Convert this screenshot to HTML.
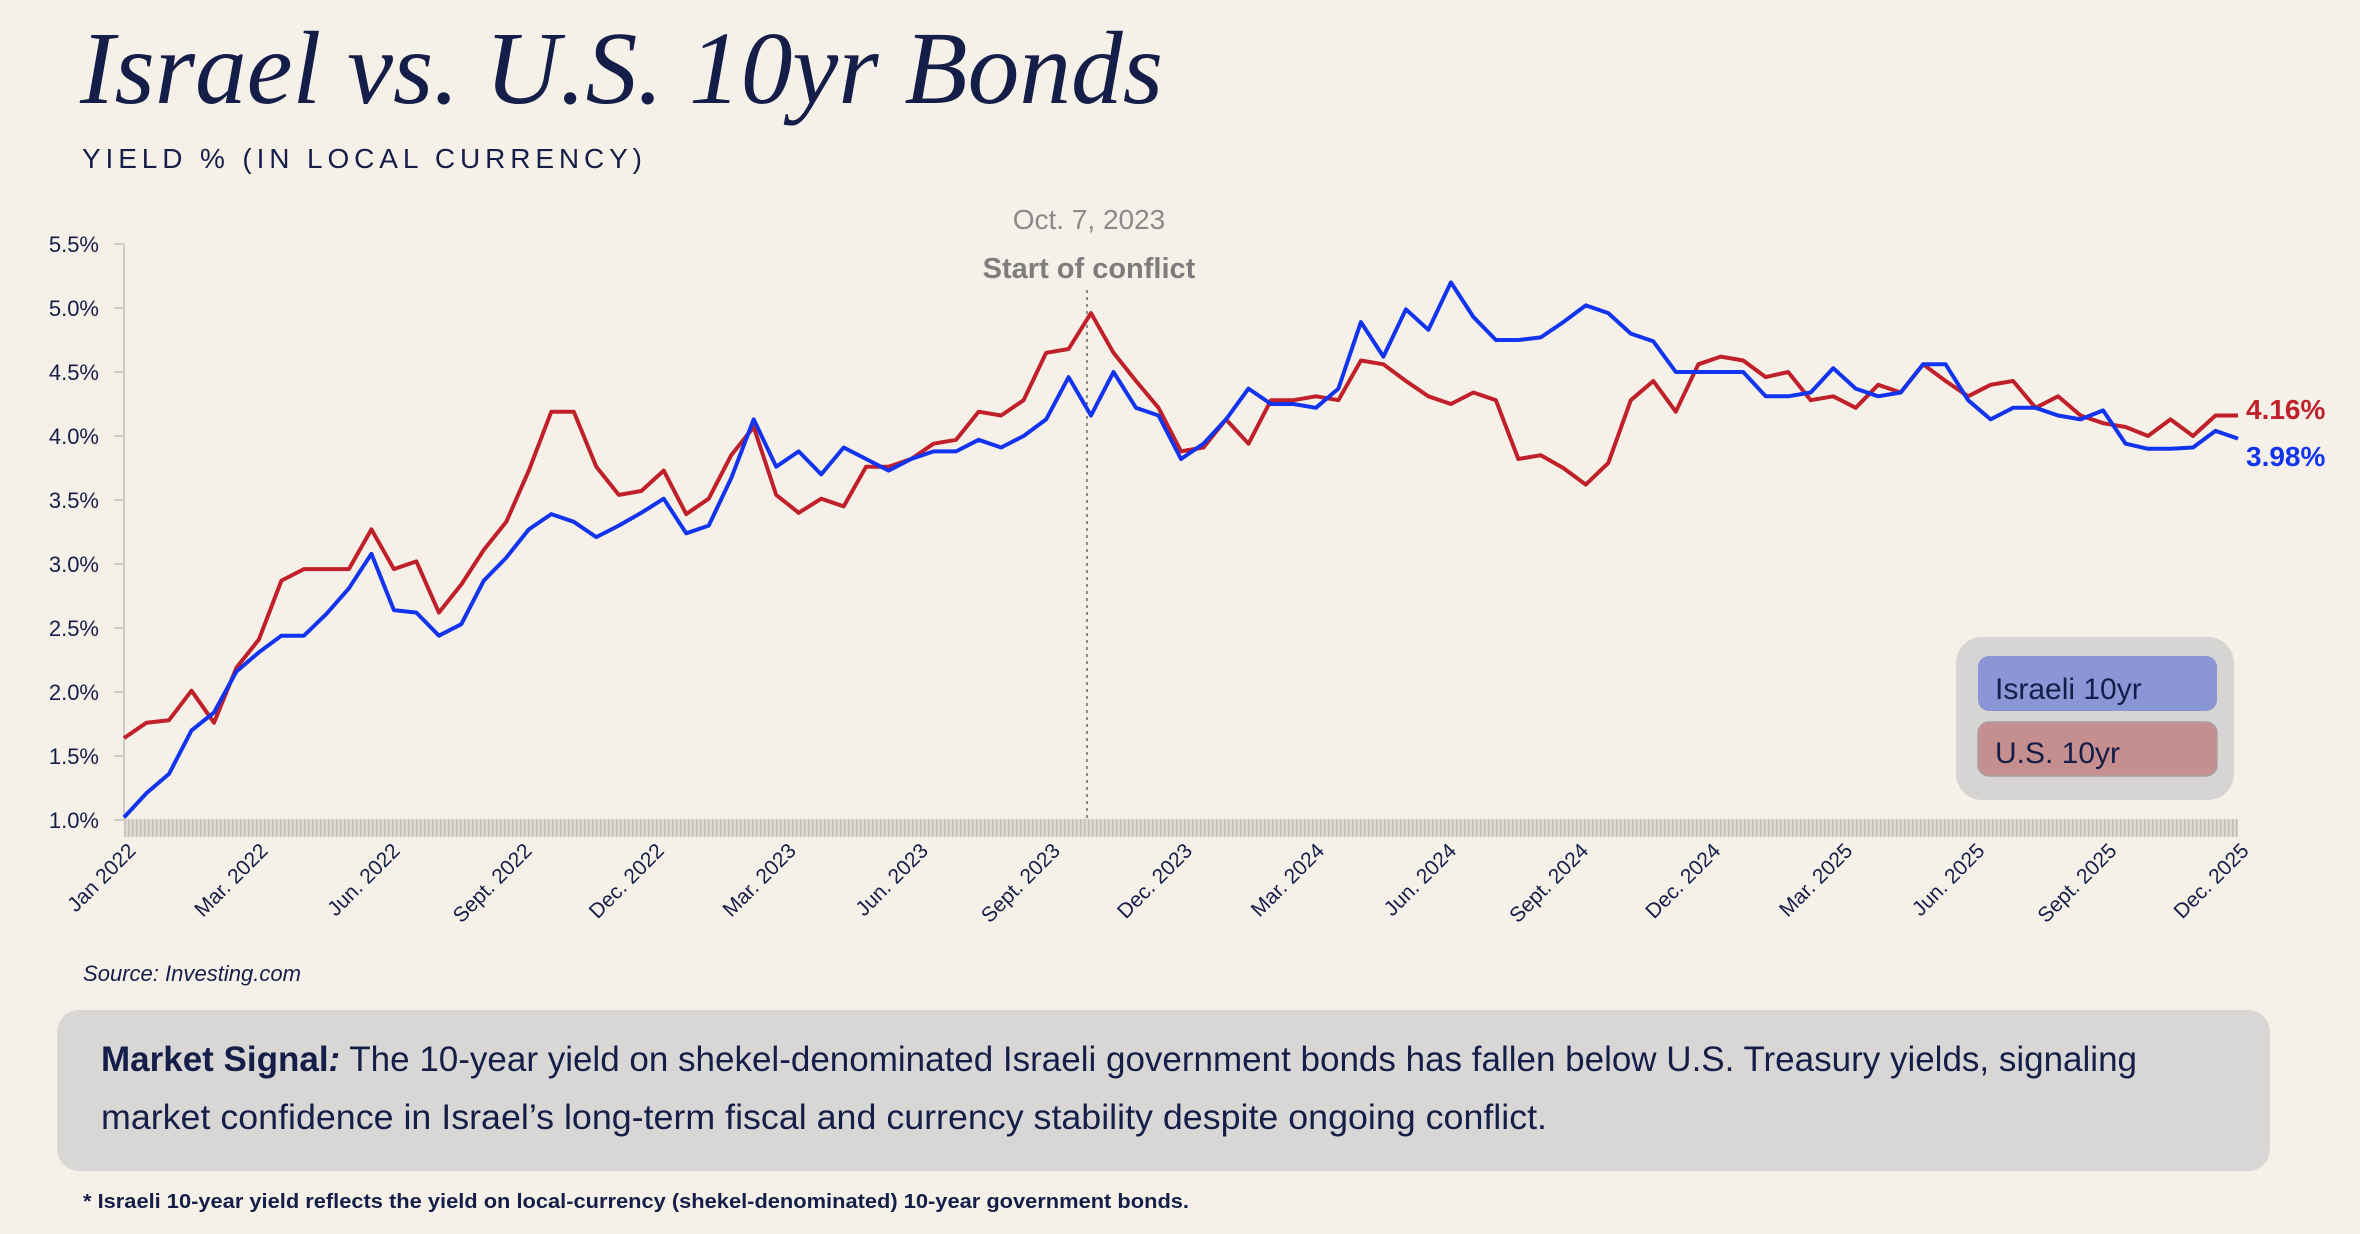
<!DOCTYPE html>
<html><head><meta charset="utf-8">
<style>
html,body{margin:0;padding:0;background:#f6f1e8;}
svg{display:block;}
text{font-family:"Liberation Sans",sans-serif;}
</style></head>
<body>
<svg id="chart" width="2360" height="1234" viewBox="0 0 2360 1234" xmlns="http://www.w3.org/2000/svg">
  <defs>
    <pattern id="tickpat" width="4" height="20" patternUnits="userSpaceOnUse">
      <rect width="4" height="20" fill="#dedad2"/>
      <rect width="1.5" height="20" fill="#c4c0b8"/>
    </pattern>
  </defs>
  <rect width="2360" height="1234" fill="#f6f1e8"/>
  <text x="80" y="103" style="font-family:'Liberation Serif',serif;font-style:italic;" font-size="104" fill="#151e48" textLength="1083" lengthAdjust="spacingAndGlyphs">Israel vs. U.S. 10yr Bonds</text>
  <text x="82" y="168" font-size="28" fill="#151e48" textLength="560" lengthAdjust="spacing">YIELD % (IN LOCAL CURRENCY)</text>

  <g id="yaxis"></g>
  <rect x="124" y="819" width="2114" height="18" fill="url(#tickpat)"/>
  <g id="xaxis"></g>

  <line x1="1087" y1="290" x2="1087" y2="822" stroke="#8a8a8a" stroke-width="2" stroke-dasharray="3,4"/>
  <text x="1089" y="229" font-size="28" fill="#8a8a8a" text-anchor="middle">Oct. 7, 2023</text>
  <text x="1089" y="278" font-size="29" font-weight="bold" fill="#7d7d7d" text-anchor="middle">Start of conflict</text>

  <g id="series"></g>

  <text x="2246" y="419" font-size="28" font-weight="bold" fill="#c0202a">4.16%</text>
  <text x="2246" y="466" font-size="28" font-weight="bold" fill="#1234ee">3.98%</text>

  <g>
    <rect x="1956" y="637" width="278" height="163" rx="26" fill="#d6d5d3"/>
    <g>
      <rect x="1978" y="656" width="239" height="55" rx="11" fill="#8a96d5"/>
      <text x="1995" y="699" font-size="30" fill="#151e48">Israeli 10yr</text>
    </g>
    <g>
      <rect x="1978" y="722" width="239" height="54" rx="11" fill="#c68f8f" stroke="#a8a0a0" stroke-width="1.5"/>
      <text x="1995" y="763" font-size="30" fill="#151e48">U.S. 10yr</text>
    </g>
  </g>

  <text x="83" y="981" font-size="22" font-style="italic" fill="#151e48" textLength="218" lengthAdjust="spacingAndGlyphs">Source: Investing.com</text>

  <g>
    <rect x="57" y="1010" width="2213" height="161" rx="22" fill="#d8d7d5"/>
    <text x="101" y="1071" font-size="35" fill="#151e48" textLength="2036" lengthAdjust="spacingAndGlyphs"><tspan font-weight="bold">Market Signal</tspan><tspan font-weight="bold" font-style="italic">:</tspan> The 10-year yield on shekel-denominated Israeli government bonds has fallen below U.S. Treasury yields, signaling</text>
    <text x="101" y="1129" font-size="35" fill="#151e48" textLength="1446" lengthAdjust="spacingAndGlyphs">market confidence in Israel’s long-term fiscal and currency stability despite ongoing conflict.</text>
  </g>
  <text x="83" y="1208" font-size="20" font-weight="bold" fill="#151e48" textLength="1106" lengthAdjust="spacingAndGlyphs">* Israeli 10-year yield reflects the yield on local-currency (shekel-denominated) 10-year government bonds.</text>
</svg>
<script>
// Half-monthly samples, Jan 2022 – Dec 2025
const usYield = [1.64,1.76,1.78,2.01,1.76,2.19,2.41,2.87,2.96,2.96,2.96,3.27,2.96,3.02,2.62,2.84,3.11,3.33,3.73,4.19,4.19,3.76,3.54,3.57,3.73,3.39,3.51,3.85,4.07,3.54,3.40,
  3.51,3.45,3.76,3.76,3.82,3.94,3.97,4.19,4.16,4.28,4.65,4.68,4.96,4.65,4.43,4.22,3.88,3.91,4.13,3.94,4.28,4.28,4.31,4.28,4.59,4.56,4.43,4.31,4.25,4.34,4.28,3.82,
  3.85,3.75,3.62,3.79,4.28,4.43,4.19,4.56,4.62,4.59,4.46,4.50,4.28,4.31,4.22,4.40,4.34,4.56,4.43,4.31,4.40,4.43,4.22,4.31,4.16,4.10,4.07,4.00,4.13,4.00,4.16,4.16];
const ilYield = [1.02,1.21,1.36,1.70,1.84,2.16,2.31,2.44,2.44,2.61,2.81,3.08,2.64,2.62,2.44,2.53,2.87,3.05,3.27,3.39,3.33,3.21,3.30,3.40,3.51,3.24,3.30,3.67,4.13,3.76,3.88,
  3.70,3.91,3.82,3.73,3.82,3.88,3.88,3.97,3.91,4.00,4.13,4.46,4.16,4.50,4.22,4.16,3.82,3.94,4.13,4.37,4.25,4.25,4.22,4.37,4.89,4.62,4.99,4.83,5.20,4.93,4.75,4.75,
  4.77,4.89,5.02,4.96,4.80,4.74,4.50,4.50,4.50,4.50,4.31,4.31,4.34,4.53,4.37,4.31,4.34,4.56,4.56,4.28,4.13,4.22,4.22,4.16,4.13,4.20,3.94,3.90,3.90,3.91,4.04,3.98];
const yTicks = [1.0,1.5,2.0,2.5,3.0,3.5,4.0,4.5,5.0,5.5];
const yTickLabels = ["1.0%","1.5%","2.0%","2.5%","3.0%","3.5%","4.0%","4.5%","5.0%","5.5%"];
const xTickLabels = ["Jan 2022","Mar. 2022","Jun. 2022","Sept. 2022","Dec. 2022","Mar. 2023","Jun. 2023","Sept. 2023","Dec. 2023","Mar. 2024","Jun. 2024","Sept. 2024","Dec. 2024","Mar. 2025","Jun. 2025","Sept. 2025","Dec. 2025"];

const NS = "http://www.w3.org/2000/svg";
const X0 = 124, X1 = 2238, Y0 = 820, Y1 = 244, VMIN = 1.0, VMAX = 5.5;
function xScale(i, n){ return X0 + i * (X1 - X0) / (n - 1); }
function yScale(v){ return Y0 - (v - VMIN) / (VMAX - VMIN) * (Y0 - Y1); }
function mk(tag, attrs, parent){ const e = document.createElementNS(NS, tag); for (const k in attrs) e.setAttribute(k, attrs[k]); parent.appendChild(e); return e; }

const yAxis = document.getElementById('yaxis');
mk('line', {x1:X0, y1:Y1, x2:X0, y2:Y0, stroke:'#cfcbc4', 'stroke-width':2}, yAxis);
yTicks.forEach((v, k) => {
  const y = yScale(v);
  const t = mk('line', {x1:X0-10, y1:y, x2:X0, y2:y, stroke:'#cfcbc4', 'stroke-width':2}, yAxis);
  
  
  const lb = mk('text', {x:X0-25, y:y+8, 'font-size':22, fill:'#151e48', 'text-anchor':'end'}, yAxis);
  lb.textContent = yTickLabels[k];
  
  
});

const xAxis = document.getElementById('xaxis');
const lx0 = 137, lx1 = 2250;
xTickLabels.forEach((s, k) => {
  const x = lx0 + k * (lx1 - lx0) / (xTickLabels.length - 1);
  const lb = mk('text', {x:x, y:852, 'font-size':21, fill:'#151e48', 'text-anchor':'end', transform:'rotate(-45 '+x+' 852)'}, xAxis);
  lb.textContent = s;
  
  
});

const series = document.getElementById('series');
function drawLine(vals, color, name){
  const d = vals.map((v, i) => (i ? 'L' : 'M') + xScale(i, vals.length).toFixed(1) + ',' + yScale(v).toFixed(1)).join(' ');
  const p = mk('path', {d:d, fill:'none', stroke:color, 'stroke-width':4, 'stroke-linejoin':'round'}, series);
  
  
}
drawLine(usYield, '#c0202a', 'us-10yr-line');
drawLine(ilYield, '#1234ee', 'israel-10yr-line');
</script>
</body></html>
